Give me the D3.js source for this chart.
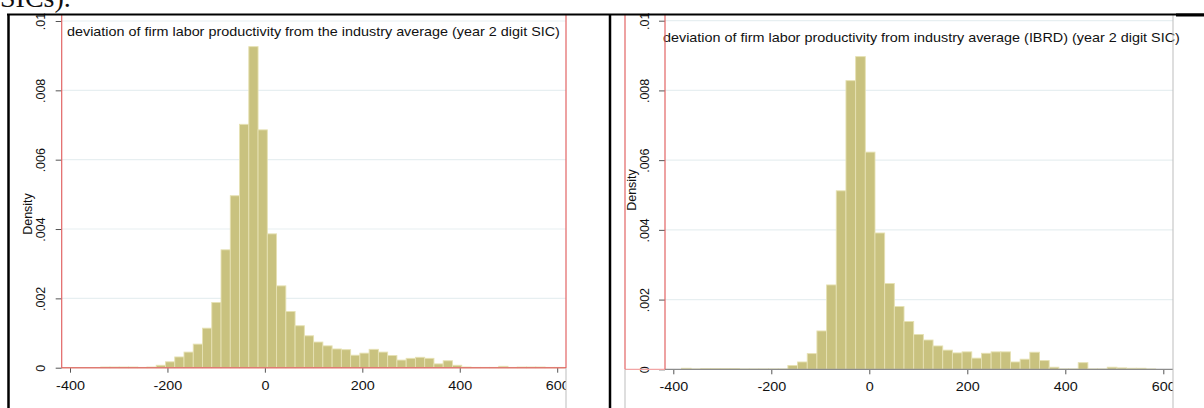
<!DOCTYPE html>
<html>
<head>
<meta charset="utf-8">
<script src="https://cdn.jsdelivr.net/npm/d3@7"></script>
<style>
  html, body { margin: 0; padding: 0; background: #fff; }
  svg { display: block; }
  text { font-family: "Liberation Sans", Arial, sans-serif; fill: #111; }
</style>
</head>
<body>
<svg id="chart" width="1204" height="408"></svg>
<script>
// ---------------- DATA ----------------
const title1 = "deviation of firm labor productivity from the industry average (year 2  digit SIC)";
const title2 = "deviation of firm labor productivity from industry average (IBRD)  (year 2 digit SIC)";
const yAxisTitle = "Density";
const headerText = "SICs).";

const xTicks = [-400, -200, 0, 200, 400, 600];
const xTickLabels = ["-400", "-200", "0", "200", "400", "600"];
const yTicks = [0, 0.002, 0.004, 0.006, 0.008, 0.01];
const yTickLabels = ["0", ".002", ".004", ".006", ".008", ".01"];

// panel 1 histogram: 50 bins
const binStart1 = -337;
const binWidth1 = 19;
const density1 = [
  0.00002, 0.00002, 0.00002, 0.00002, 0.00001, 0.00002, 0.00007, 0.00017, 0.00031, 0.00045,
  0.00068, 0.00114, 0.00188, 0.00340, 0.00496, 0.00702, 0.00926, 0.00686, 0.00386, 0.00236,
  0.00162, 0.00121, 0.00092, 0.00074, 0.00063, 0.00054, 0.00052, 0.00036, 0.00042, 0.00053,
  0.00045, 0.00035, 0.00022, 0.00027, 0.00030, 0.00027, 0.00011, 0.00020, 0.00007, 0.00002,
  0.00001, 0.00001, 0.00001, 0.00004, 0.00001, 0.00002, 0.00002, 0.00002, 0.00001, 0.00001
];

// panel 2 histogram: 50 bins
const binStart2 = -383.4;
const binWidth2 = 19.75;
const density2 = [
  0.00003, 0.00001, 0.00002, 0.00002, 0.00002, 0.00002, 0.00001, 0.00001, 0.00001, 0.00001,
  0.00001, 0.00011, 0.00021, 0.00045, 0.00110, 0.00242, 0.00512, 0.00828, 0.00897, 0.00623,
  0.00391, 0.00246, 0.00180, 0.00137, 0.00100, 0.00084, 0.00067, 0.00055, 0.00047, 0.00050,
  0.00032, 0.00046, 0.00050, 0.00050, 0.00021, 0.00029, 0.00049, 0.00025, 0.00006, 0.00001,
  0.00001, 0.00019, 0.00001, 0.00001, 0.00006, 0.00004, 0.00003, 0.00003, 0.00001, 0.00000
];

// ---------------- DRAW ----------------
const svg = d3.select("#chart");
svg.append("rect").attr("width", 1204).attr("height", 408).attr("fill", "#fff");

const barFill = "#c9c27f";
const barStroke = "#e6e1b3";
const gridColor = "#e7eff1";
const redLine = "#e26464";
const hStretch = 1.15; // the pasted picture is stretched horizontally

function panel(cfg) {
  const g = svg.append("g");
  const x = d3.scaleLinear().domain([-400, 600]).range(cfg.xRange);
  const y = d3.scaleLinear().domain([0, 0.01]).range(cfg.yRange);

  const clipId = "clip" + cfg.id;
  svg.append("clipPath").attr("id", clipId)
    .append("rect").attr("x", cfg.cellLeft).attr("y", 0)
    .attr("width", cfg.cellRight - cfg.cellLeft).attr("height", 408);

  // gridlines
  g.selectAll(".grid").data(yTicks.slice(1)).join("line")
    .attr("x1", cfg.axisX).attr("x2", cfg.cellRight)
    .attr("y1", d => y(d)).attr("y2", d => y(d))
    .attr("stroke", gridColor).attr("stroke-width", 1.2);

  // bars
  const data = cfg.density.map((d, i) => ({
    x0: cfg.binStart + i * cfg.binWidth,
    x1: cfg.binStart + (i + 1) * cfg.binWidth,
    v: d
  }));
  g.selectAll(".bar").data(data).join("rect")
    .attr("x", d => x(d.x0))
    .attr("width", d => x(d.x1) - x(d.x0))
    .attr("y", d => y(d.v))
    .attr("height", d => y(0) - y(d.v))
    .attr("fill", barFill)
    .attr("stroke", barStroke)
    .attr("stroke-width", 0.9);

  // y axis ticks
  const yAx = g.append("g").attr("transform", `translate(${cfg.axisX},0)`)
    .call(d3.axisLeft(y).tickValues(yTicks).tickSize(6).tickFormat((d, i) => yTickLabels[i]));
  yAx.select(".domain").remove();
  yAx.selectAll(".tick line").attr("stroke", "#555");
  yAx.selectAll(".tick text")
    .attr("x", null).attr("dy", null)
    .attr("transform", `translate(${cfg.yLabelX - cfg.axisX},0) rotate(-90)`)
    .attr("text-anchor", "middle").attr("dominant-baseline", "central")
    .style("font-size", "12.5px").style("font-family", "Liberation Sans, Arial, sans-serif")
    .attr("fill", "#111");

  // x axis ticks
  const xAx = g.append("g").attr("transform", `translate(0,${cfg.yRange[0]})`)
    .attr("clip-path", `url(#${clipId})`)
    .call(d3.axisBottom(x).tickValues(xTicks).tickSize(5).tickFormat((d, i) => xTickLabels[i]));
  xAx.select(".domain").remove();
  xAx.selectAll(".tick line").attr("stroke", "#555");
  xAx.selectAll(".tick text")
    .attr("y", null).attr("dy", null)
    .attr("transform", `translate(0,${cfg.xLabelBaseline - cfg.yRange[0]}) scale(${hStretch},1)`)
    .style("font-size", "12.5px").style("font-family", "Liberation Sans, Arial, sans-serif")
    .attr("fill", "#111");

  // y title
  g.append("text")
    .attr("transform", `translate(${cfg.yTitleX},${cfg.yTitleY}) rotate(-90)`)
    .attr("text-anchor", "middle").attr("dominant-baseline", "central")
    .style("font-size", "12.5px").text(yAxisTitle);

  // chart title
  g.append("text")
    .attr("transform", `translate(${cfg.titleX},${cfg.titleY}) scale(${hStretch},1)`)
    .style("font-size", "12.5px").text(cfg.title);

  return { g, x, y };
}

// Panel 1
panel({
  id: 1, xRange: [70, 557.2], yRange: [367.7, 21], axisX: 61.7,
  cellLeft: 10, cellRight: 566,
  binStart: binStart1, binWidth: binWidth1, density: density1,
  yLabelX: 41, xLabelBaseline: 389.5, yTitleX: 28, yTitleY: 214,
  titleX: 67, titleY: 35.5, title: title1
});
// Panel 2
panel({
  id: 2, xRange: [673.3, 1163.3], yRange: [369.3, 20.7], axisX: 665,
  cellLeft: 612, cellRight: 1173,
  binStart: binStart2, binWidth: binWidth2, density: density2,
  yLabelX: 645, xLabelBaseline: 391, yTitleX: 631.5, yTitleY: 190,
  titleX: 663, titleY: 41.5, title: title2
});

// frame lines panel 1
const frame = svg.append("g");
frame.append("line").attr("x1", 61.7).attr("x2", 566).attr("y1", 367.7).attr("y2", 367.7)
  .attr("stroke", "#df7b72").attr("stroke-width", 1.6);
frame.append("line").attr("x1", 61.7).attr("x2", 61.7).attr("y1", 14).attr("y2", 368)
  .attr("stroke", redLine).attr("stroke-width", 1.2);
frame.append("line").attr("x1", 566).attr("x2", 566).attr("y1", 14).attr("y2", 368)
  .attr("stroke", redLine).attr("stroke-width", 1.2);
frame.append("line").attr("x1", 566).attr("x2", 566).attr("y1", 368).attr("y2", 408)
  .attr("stroke", "#bdbdbd").attr("stroke-width", 1);

// frame lines panel 2
frame.append("line").attr("x1", 665).attr("x2", 1173).attr("y1", 369.3).attr("y2", 369.3)
  .attr("stroke", "#8c8c8c").attr("stroke-width", 1.2);
frame.append("line").attr("x1", 625).attr("x2", 665).attr("y1", 369.3).attr("y2", 369.3)
  .attr("stroke", "#f2a5a5").attr("stroke-width", 1.2);
frame.append("line").attr("x1", 625).attr("x2", 625).attr("y1", 369.3).attr("y2", 408)
  .attr("stroke", "#bdbdbd").attr("stroke-width", 1);
frame.append("line").attr("x1", 625).attr("x2", 625).attr("y1", 14).attr("y2", 369.3)
  .attr("stroke", redLine).attr("stroke-width", 1.2);
frame.append("line").attr("x1", 665).attr("x2", 665).attr("y1", 14).attr("y2", 369.3)
  .attr("stroke", redLine).attr("stroke-width", 1.2);
frame.append("line").attr("x1", 1173).attr("x2", 1173).attr("y1", 14).attr("y2", 408)
  .attr("stroke", "#bdbdbd").attr("stroke-width", 1);

// document table borders
frame.append("line").attr("x1", 7).attr("x2", 1204).attr("y1", 14.5).attr("y2", 14.5)
  .attr("stroke", "#000").attr("stroke-width", 1.8);
frame.append("line").attr("x1", 1176).attr("x2", 1204).attr("y1", 15).attr("y2", 15)
  .attr("stroke", "#000").attr("stroke-width", 3);
frame.append("line").attr("x1", 8.5).attr("x2", 8.5).attr("y1", 14).attr("y2", 408)
  .attr("stroke", "#000").attr("stroke-width", 2.5);
frame.append("line").attr("x1", 610).attr("x2", 610).attr("y1", 14).attr("y2", 408)
  .attr("stroke", "#000").attr("stroke-width", 2.5);

// cut-off document text (also cut at the top edge in the reference)
svg.append("text").attr("x", 0).attr("y", 7)
  .style("font-family", "Liberation Serif, Times New Roman, serif")
  .style("font-size", "28px").attr("fill", "#000").text(headerText);
</script>
</body>
</html>
